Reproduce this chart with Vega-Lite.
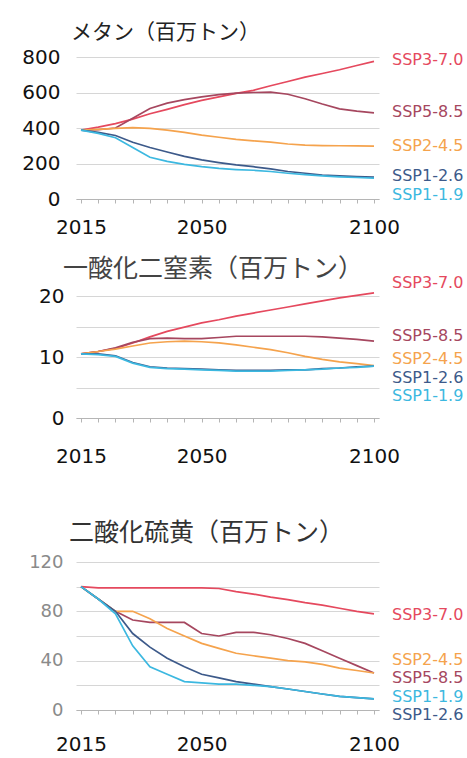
{
  "$schema": "https://vega.github.io/schema/vega-lite/v6.json",
  "background": "white",
  "padding": {"left": 21, "top": 22, "right": 0, "bottom": 0},
  "spacing": 55,
  "config": {
    "view": {"stroke": null},
    "font": "DejaVu Sans",
    "axis": {"title": null, "gridColor": "#d6d6d6", "domainColor": "#b5b5b5", "tickColor": "#b5b5b5", "labelOverlap": false}
  },
  "datasets": {
    "methane": [
      {"scenario": "SSP3-7.0", "year": 2015, "value": 388}, {"scenario": "SSP3-7.0", "year": 2020, "value": 405}, {"scenario": "SSP3-7.0", "year": 2025, "value": 425}, {"scenario": "SSP3-7.0", "year": 2030, "value": 450}, {"scenario": "SSP3-7.0", "year": 2035, "value": 480}, {"scenario": "SSP3-7.0", "year": 2040, "value": 505}, {"scenario": "SSP3-7.0", "year": 2045, "value": 532}, {"scenario": "SSP3-7.0", "year": 2050, "value": 556}, {"scenario": "SSP3-7.0", "year": 2055, "value": 575}, {"scenario": "SSP3-7.0", "year": 2060, "value": 595}, {"scenario": "SSP3-7.0", "year": 2065, "value": 612}, {"scenario": "SSP3-7.0", "year": 2070, "value": 638}, {"scenario": "SSP3-7.0", "year": 2075, "value": 662}, {"scenario": "SSP3-7.0", "year": 2080, "value": 687}, {"scenario": "SSP3-7.0", "year": 2085, "value": 707}, {"scenario": "SSP3-7.0", "year": 2090, "value": 728}, {"scenario": "SSP3-7.0", "year": 2095, "value": 752}, {"scenario": "SSP3-7.0", "year": 2100, "value": 775},
      {"scenario": "SSP5-8.5", "year": 2015, "value": 388}, {"scenario": "SSP5-8.5", "year": 2020, "value": 390}, {"scenario": "SSP5-8.5", "year": 2025, "value": 400}, {"scenario": "SSP5-8.5", "year": 2030, "value": 455}, {"scenario": "SSP5-8.5", "year": 2035, "value": 510}, {"scenario": "SSP5-8.5", "year": 2040, "value": 540}, {"scenario": "SSP5-8.5", "year": 2045, "value": 560}, {"scenario": "SSP5-8.5", "year": 2050, "value": 575}, {"scenario": "SSP5-8.5", "year": 2055, "value": 588}, {"scenario": "SSP5-8.5", "year": 2060, "value": 597}, {"scenario": "SSP5-8.5", "year": 2065, "value": 600}, {"scenario": "SSP5-8.5", "year": 2070, "value": 602}, {"scenario": "SSP5-8.5", "year": 2075, "value": 590}, {"scenario": "SSP5-8.5", "year": 2080, "value": 565}, {"scenario": "SSP5-8.5", "year": 2085, "value": 535}, {"scenario": "SSP5-8.5", "year": 2090, "value": 508}, {"scenario": "SSP5-8.5", "year": 2095, "value": 495}, {"scenario": "SSP5-8.5", "year": 2100, "value": 485},
      {"scenario": "SSP2-4.5", "year": 2015, "value": 388}, {"scenario": "SSP2-4.5", "year": 2020, "value": 392}, {"scenario": "SSP2-4.5", "year": 2025, "value": 398}, {"scenario": "SSP2-4.5", "year": 2030, "value": 402}, {"scenario": "SSP2-4.5", "year": 2035, "value": 398}, {"scenario": "SSP2-4.5", "year": 2040, "value": 388}, {"scenario": "SSP2-4.5", "year": 2045, "value": 375}, {"scenario": "SSP2-4.5", "year": 2050, "value": 360}, {"scenario": "SSP2-4.5", "year": 2055, "value": 348}, {"scenario": "SSP2-4.5", "year": 2060, "value": 336}, {"scenario": "SSP2-4.5", "year": 2065, "value": 328}, {"scenario": "SSP2-4.5", "year": 2070, "value": 320}, {"scenario": "SSP2-4.5", "year": 2075, "value": 310}, {"scenario": "SSP2-4.5", "year": 2080, "value": 303}, {"scenario": "SSP2-4.5", "year": 2085, "value": 301}, {"scenario": "SSP2-4.5", "year": 2090, "value": 300}, {"scenario": "SSP2-4.5", "year": 2095, "value": 299}, {"scenario": "SSP2-4.5", "year": 2100, "value": 298},
      {"scenario": "SSP1-2.6", "year": 2015, "value": 388}, {"scenario": "SSP1-2.6", "year": 2020, "value": 375}, {"scenario": "SSP1-2.6", "year": 2025, "value": 358}, {"scenario": "SSP1-2.6", "year": 2030, "value": 320}, {"scenario": "SSP1-2.6", "year": 2035, "value": 290}, {"scenario": "SSP1-2.6", "year": 2040, "value": 265}, {"scenario": "SSP1-2.6", "year": 2045, "value": 240}, {"scenario": "SSP1-2.6", "year": 2050, "value": 220}, {"scenario": "SSP1-2.6", "year": 2055, "value": 205}, {"scenario": "SSP1-2.6", "year": 2060, "value": 192}, {"scenario": "SSP1-2.6", "year": 2065, "value": 182}, {"scenario": "SSP1-2.6", "year": 2070, "value": 170}, {"scenario": "SSP1-2.6", "year": 2075, "value": 155}, {"scenario": "SSP1-2.6", "year": 2080, "value": 145}, {"scenario": "SSP1-2.6", "year": 2085, "value": 135}, {"scenario": "SSP1-2.6", "year": 2090, "value": 130}, {"scenario": "SSP1-2.6", "year": 2095, "value": 126}, {"scenario": "SSP1-2.6", "year": 2100, "value": 123},
      {"scenario": "SSP1-1.9", "year": 2015, "value": 388}, {"scenario": "SSP1-1.9", "year": 2020, "value": 370}, {"scenario": "SSP1-1.9", "year": 2025, "value": 345}, {"scenario": "SSP1-1.9", "year": 2030, "value": 290}, {"scenario": "SSP1-1.9", "year": 2035, "value": 235}, {"scenario": "SSP1-1.9", "year": 2040, "value": 212}, {"scenario": "SSP1-1.9", "year": 2045, "value": 195}, {"scenario": "SSP1-1.9", "year": 2050, "value": 182}, {"scenario": "SSP1-1.9", "year": 2055, "value": 172}, {"scenario": "SSP1-1.9", "year": 2060, "value": 166}, {"scenario": "SSP1-1.9", "year": 2065, "value": 162}, {"scenario": "SSP1-1.9", "year": 2070, "value": 155}, {"scenario": "SSP1-1.9", "year": 2075, "value": 145}, {"scenario": "SSP1-1.9", "year": 2080, "value": 137}, {"scenario": "SSP1-1.9", "year": 2085, "value": 130}, {"scenario": "SSP1-1.9", "year": 2090, "value": 125}, {"scenario": "SSP1-1.9", "year": 2095, "value": 121}, {"scenario": "SSP1-1.9", "year": 2100, "value": 118}
    ],
    "n2o": [
      {"scenario": "SSP3-7.0", "year": 2015, "value": 10.5}, {"scenario": "SSP3-7.0", "year": 2020, "value": 10.9}, {"scenario": "SSP3-7.0", "year": 2025, "value": 11.4}, {"scenario": "SSP3-7.0", "year": 2030, "value": 12.3}, {"scenario": "SSP3-7.0", "year": 2035, "value": 13.3}, {"scenario": "SSP3-7.0", "year": 2040, "value": 14.2}, {"scenario": "SSP3-7.0", "year": 2045, "value": 14.9}, {"scenario": "SSP3-7.0", "year": 2050, "value": 15.6}, {"scenario": "SSP3-7.0", "year": 2055, "value": 16.1}, {"scenario": "SSP3-7.0", "year": 2060, "value": 16.7}, {"scenario": "SSP3-7.0", "year": 2065, "value": 17.2}, {"scenario": "SSP3-7.0", "year": 2070, "value": 17.7}, {"scenario": "SSP3-7.0", "year": 2075, "value": 18.2}, {"scenario": "SSP3-7.0", "year": 2080, "value": 18.7}, {"scenario": "SSP3-7.0", "year": 2085, "value": 19.2}, {"scenario": "SSP3-7.0", "year": 2090, "value": 19.7}, {"scenario": "SSP3-7.0", "year": 2095, "value": 20.1}, {"scenario": "SSP3-7.0", "year": 2100, "value": 20.5},
      {"scenario": "SSP5-8.5", "year": 2015, "value": 10.5}, {"scenario": "SSP5-8.5", "year": 2020, "value": 10.9}, {"scenario": "SSP5-8.5", "year": 2025, "value": 11.5}, {"scenario": "SSP5-8.5", "year": 2030, "value": 12.4}, {"scenario": "SSP5-8.5", "year": 2035, "value": 13.0}, {"scenario": "SSP5-8.5", "year": 2040, "value": 13.1}, {"scenario": "SSP5-8.5", "year": 2045, "value": 13.0}, {"scenario": "SSP5-8.5", "year": 2050, "value": 13.0}, {"scenario": "SSP5-8.5", "year": 2055, "value": 13.2}, {"scenario": "SSP5-8.5", "year": 2060, "value": 13.4}, {"scenario": "SSP5-8.5", "year": 2065, "value": 13.4}, {"scenario": "SSP5-8.5", "year": 2070, "value": 13.4}, {"scenario": "SSP5-8.5", "year": 2075, "value": 13.4}, {"scenario": "SSP5-8.5", "year": 2080, "value": 13.4}, {"scenario": "SSP5-8.5", "year": 2085, "value": 13.3}, {"scenario": "SSP5-8.5", "year": 2090, "value": 13.1}, {"scenario": "SSP5-8.5", "year": 2095, "value": 12.9}, {"scenario": "SSP5-8.5", "year": 2100, "value": 12.6},
      {"scenario": "SSP2-4.5", "year": 2015, "value": 10.5}, {"scenario": "SSP2-4.5", "year": 2020, "value": 10.9}, {"scenario": "SSP2-4.5", "year": 2025, "value": 11.3}, {"scenario": "SSP2-4.5", "year": 2030, "value": 11.8}, {"scenario": "SSP2-4.5", "year": 2035, "value": 12.3}, {"scenario": "SSP2-4.5", "year": 2040, "value": 12.5}, {"scenario": "SSP2-4.5", "year": 2045, "value": 12.6}, {"scenario": "SSP2-4.5", "year": 2050, "value": 12.5}, {"scenario": "SSP2-4.5", "year": 2055, "value": 12.3}, {"scenario": "SSP2-4.5", "year": 2060, "value": 12.0}, {"scenario": "SSP2-4.5", "year": 2065, "value": 11.6}, {"scenario": "SSP2-4.5", "year": 2070, "value": 11.2}, {"scenario": "SSP2-4.5", "year": 2075, "value": 10.7}, {"scenario": "SSP2-4.5", "year": 2080, "value": 10.1}, {"scenario": "SSP2-4.5", "year": 2085, "value": 9.6}, {"scenario": "SSP2-4.5", "year": 2090, "value": 9.2}, {"scenario": "SSP2-4.5", "year": 2095, "value": 8.9}, {"scenario": "SSP2-4.5", "year": 2100, "value": 8.6},
      {"scenario": "SSP1-2.6", "year": 2015, "value": 10.5}, {"scenario": "SSP1-2.6", "year": 2020, "value": 10.5}, {"scenario": "SSP1-2.6", "year": 2025, "value": 10.2}, {"scenario": "SSP1-2.6", "year": 2030, "value": 9.1}, {"scenario": "SSP1-2.6", "year": 2035, "value": 8.4}, {"scenario": "SSP1-2.6", "year": 2040, "value": 8.2}, {"scenario": "SSP1-2.6", "year": 2045, "value": 8.1}, {"scenario": "SSP1-2.6", "year": 2050, "value": 8.0}, {"scenario": "SSP1-2.6", "year": 2055, "value": 7.9}, {"scenario": "SSP1-2.6", "year": 2060, "value": 7.8}, {"scenario": "SSP1-2.6", "year": 2065, "value": 7.8}, {"scenario": "SSP1-2.6", "year": 2070, "value": 7.8}, {"scenario": "SSP1-2.6", "year": 2075, "value": 7.9}, {"scenario": "SSP1-2.6", "year": 2080, "value": 7.9}, {"scenario": "SSP1-2.6", "year": 2085, "value": 8.1}, {"scenario": "SSP1-2.6", "year": 2090, "value": 8.2}, {"scenario": "SSP1-2.6", "year": 2095, "value": 8.4}, {"scenario": "SSP1-2.6", "year": 2100, "value": 8.5},
      {"scenario": "SSP1-1.9", "year": 2015, "value": 10.5}, {"scenario": "SSP1-1.9", "year": 2020, "value": 10.4}, {"scenario": "SSP1-1.9", "year": 2025, "value": 10.1}, {"scenario": "SSP1-1.9", "year": 2030, "value": 9.0}, {"scenario": "SSP1-1.9", "year": 2035, "value": 8.3}, {"scenario": "SSP1-1.9", "year": 2040, "value": 8.1}, {"scenario": "SSP1-1.9", "year": 2045, "value": 8.0}, {"scenario": "SSP1-1.9", "year": 2050, "value": 7.9}, {"scenario": "SSP1-1.9", "year": 2055, "value": 7.8}, {"scenario": "SSP1-1.9", "year": 2060, "value": 7.7}, {"scenario": "SSP1-1.9", "year": 2065, "value": 7.7}, {"scenario": "SSP1-1.9", "year": 2070, "value": 7.7}, {"scenario": "SSP1-1.9", "year": 2075, "value": 7.8}, {"scenario": "SSP1-1.9", "year": 2080, "value": 7.9}, {"scenario": "SSP1-1.9", "year": 2085, "value": 8.0}, {"scenario": "SSP1-1.9", "year": 2090, "value": 8.2}, {"scenario": "SSP1-1.9", "year": 2095, "value": 8.3}, {"scenario": "SSP1-1.9", "year": 2100, "value": 8.5}
    ],
    "so2": [
      {"scenario": "SSP3-7.0", "year": 2015, "value": 100}, {"scenario": "SSP3-7.0", "year": 2020, "value": 99}, {"scenario": "SSP3-7.0", "year": 2025, "value": 99}, {"scenario": "SSP3-7.0", "year": 2030, "value": 99}, {"scenario": "SSP3-7.0", "year": 2035, "value": 99}, {"scenario": "SSP3-7.0", "year": 2040, "value": 99}, {"scenario": "SSP3-7.0", "year": 2045, "value": 99}, {"scenario": "SSP3-7.0", "year": 2050, "value": 99}, {"scenario": "SSP3-7.0", "year": 2055, "value": 98.5}, {"scenario": "SSP3-7.0", "year": 2060, "value": 96}, {"scenario": "SSP3-7.0", "year": 2065, "value": 94}, {"scenario": "SSP3-7.0", "year": 2070, "value": 91.5}, {"scenario": "SSP3-7.0", "year": 2075, "value": 89.5}, {"scenario": "SSP3-7.0", "year": 2080, "value": 87}, {"scenario": "SSP3-7.0", "year": 2085, "value": 85}, {"scenario": "SSP3-7.0", "year": 2090, "value": 82.5}, {"scenario": "SSP3-7.0", "year": 2095, "value": 80}, {"scenario": "SSP3-7.0", "year": 2100, "value": 78},
      {"scenario": "SSP5-8.5", "year": 2015, "value": 100}, {"scenario": "SSP5-8.5", "year": 2020, "value": 90}, {"scenario": "SSP5-8.5", "year": 2025, "value": 80}, {"scenario": "SSP5-8.5", "year": 2030, "value": 73}, {"scenario": "SSP5-8.5", "year": 2035, "value": 71}, {"scenario": "SSP5-8.5", "year": 2040, "value": 71}, {"scenario": "SSP5-8.5", "year": 2045, "value": 71}, {"scenario": "SSP5-8.5", "year": 2050, "value": 62}, {"scenario": "SSP5-8.5", "year": 2055, "value": 60}, {"scenario": "SSP5-8.5", "year": 2060, "value": 63}, {"scenario": "SSP5-8.5", "year": 2065, "value": 63}, {"scenario": "SSP5-8.5", "year": 2070, "value": 61}, {"scenario": "SSP5-8.5", "year": 2075, "value": 58}, {"scenario": "SSP5-8.5", "year": 2080, "value": 54}, {"scenario": "SSP5-8.5", "year": 2085, "value": 48}, {"scenario": "SSP5-8.5", "year": 2090, "value": 42}, {"scenario": "SSP5-8.5", "year": 2095, "value": 36}, {"scenario": "SSP5-8.5", "year": 2100, "value": 30},
      {"scenario": "SSP2-4.5", "year": 2015, "value": 100}, {"scenario": "SSP2-4.5", "year": 2020, "value": 90}, {"scenario": "SSP2-4.5", "year": 2025, "value": 80}, {"scenario": "SSP2-4.5", "year": 2030, "value": 80}, {"scenario": "SSP2-4.5", "year": 2035, "value": 74}, {"scenario": "SSP2-4.5", "year": 2040, "value": 66}, {"scenario": "SSP2-4.5", "year": 2045, "value": 60}, {"scenario": "SSP2-4.5", "year": 2050, "value": 54}, {"scenario": "SSP2-4.5", "year": 2055, "value": 50}, {"scenario": "SSP2-4.5", "year": 2060, "value": 46}, {"scenario": "SSP2-4.5", "year": 2065, "value": 44}, {"scenario": "SSP2-4.5", "year": 2070, "value": 42}, {"scenario": "SSP2-4.5", "year": 2075, "value": 40}, {"scenario": "SSP2-4.5", "year": 2080, "value": 39}, {"scenario": "SSP2-4.5", "year": 2085, "value": 37}, {"scenario": "SSP2-4.5", "year": 2090, "value": 34}, {"scenario": "SSP2-4.5", "year": 2095, "value": 32}, {"scenario": "SSP2-4.5", "year": 2100, "value": 30},
      {"scenario": "SSP1-2.6", "year": 2015, "value": 100}, {"scenario": "SSP1-2.6", "year": 2020, "value": 90}, {"scenario": "SSP1-2.6", "year": 2025, "value": 80}, {"scenario": "SSP1-2.6", "year": 2030, "value": 62}, {"scenario": "SSP1-2.6", "year": 2035, "value": 51}, {"scenario": "SSP1-2.6", "year": 2040, "value": 42}, {"scenario": "SSP1-2.6", "year": 2045, "value": 35}, {"scenario": "SSP1-2.6", "year": 2050, "value": 29}, {"scenario": "SSP1-2.6", "year": 2055, "value": 26}, {"scenario": "SSP1-2.6", "year": 2060, "value": 23}, {"scenario": "SSP1-2.6", "year": 2065, "value": 21}, {"scenario": "SSP1-2.6", "year": 2070, "value": 19}, {"scenario": "SSP1-2.6", "year": 2075, "value": 17}, {"scenario": "SSP1-2.6", "year": 2080, "value": 15}, {"scenario": "SSP1-2.6", "year": 2085, "value": 13}, {"scenario": "SSP1-2.6", "year": 2090, "value": 11}, {"scenario": "SSP1-2.6", "year": 2095, "value": 10}, {"scenario": "SSP1-2.6", "year": 2100, "value": 9},
      {"scenario": "SSP1-1.9", "year": 2015, "value": 100}, {"scenario": "SSP1-1.9", "year": 2020, "value": 90}, {"scenario": "SSP1-1.9", "year": 2025, "value": 78}, {"scenario": "SSP1-1.9", "year": 2030, "value": 52}, {"scenario": "SSP1-1.9", "year": 2035, "value": 35}, {"scenario": "SSP1-1.9", "year": 2040, "value": 29}, {"scenario": "SSP1-1.9", "year": 2045, "value": 23}, {"scenario": "SSP1-1.9", "year": 2050, "value": 22}, {"scenario": "SSP1-1.9", "year": 2055, "value": 21}, {"scenario": "SSP1-1.9", "year": 2060, "value": 21}, {"scenario": "SSP1-1.9", "year": 2065, "value": 20}, {"scenario": "SSP1-1.9", "year": 2070, "value": 19}, {"scenario": "SSP1-1.9", "year": 2075, "value": 17}, {"scenario": "SSP1-1.9", "year": 2080, "value": 15}, {"scenario": "SSP1-1.9", "year": 2085, "value": 13}, {"scenario": "SSP1-1.9", "year": 2090, "value": 11}, {"scenario": "SSP1-1.9", "year": 2095, "value": 10}, {"scenario": "SSP1-1.9", "year": 2100, "value": 9}
    ],
    "labels": [
      {"gas": "methane", "scenario": "SSP3-7.0", "year": 2100, "value": 783},
      {"gas": "methane", "scenario": "SSP5-8.5", "year": 2100, "value": 490},
      {"gas": "methane", "scenario": "SSP2-4.5", "year": 2100, "value": 299},
      {"gas": "methane", "scenario": "SSP1-2.6", "year": 2100, "value": 130},
      {"gas": "methane", "scenario": "SSP1-1.9", "year": 2100, "value": 23},
      {"gas": "n2o", "scenario": "SSP3-7.0", "year": 2100, "value": 22.1},
      {"gas": "n2o", "scenario": "SSP5-8.5", "year": 2100, "value": 13.4},
      {"gas": "n2o", "scenario": "SSP2-4.5", "year": 2100, "value": 9.7},
      {"gas": "n2o", "scenario": "SSP1-2.6", "year": 2100, "value": 6.6},
      {"gas": "n2o", "scenario": "SSP1-1.9", "year": 2100, "value": 3.6},
      {"gas": "so2", "scenario": "SSP3-7.0", "year": 2100, "value": 77},
      {"gas": "so2", "scenario": "SSP2-4.5", "year": 2100, "value": 40.5},
      {"gas": "so2", "scenario": "SSP5-8.5", "year": 2100, "value": 26},
      {"gas": "so2", "scenario": "SSP1-1.9", "year": 2100, "value": 10.5},
      {"gas": "so2", "scenario": "SSP1-2.6", "year": 2100, "value": -4}
    ]
  },
  "vconcat": [
    {
      "spacing": 20,
      "vconcat": [
        {
          "width": 303,
          "height": 142,
          "title": {"text": "メタン（百万トン）", "anchor": "start", "frame": "group", "font": "Noto Sans CJK JP", "fontSize": 21, "fontWeight": "normal", "color": "#222222", "offset": 4, "dx": -5},
          "encoding": {
            "x": {"field": "year", "type": "quantitative", "scale": {"domain": [2015, 2100], "nice": false, "zero": false, "padding": 5},
                  "axis": {"grid": false, "values": [2015, 2020, 2025, 2030, 2035, 2040, 2045, 2050, 2055, 2060, 2065, 2070, 2075, 2080, 2085, 2090, 2095, 2100], "labelExpr": "(datum.value == 2015 || datum.value == 2050 || datum.value == 2100) ? '' + datum.value : ''", "labelFontSize": 20, "labelColor": "#111111", "labelPadding": 14, "tickSize": 4, "labelFlush": false, "labelOverlap": false}},
            "y": {"field": "value", "type": "quantitative", "scale": {"domain": [0, 800], "nice": false},
                  "axis": {"values": [0, 200, 400, 600, 800], "domain": false, "ticks": false, "labelFontSize": 20, "labelColor": "#111111", "labelPadding": 16, "labelOverlap": false}},
            "color": {"field": "scenario", "type": "nominal", "legend": null, "scale": {"domain": ["SSP3-7.0", "SSP5-8.5", "SSP2-4.5", "SSP1-2.6", "SSP1-1.9"], "range": ["#e5495e", "#a6475f", "#f5a34d", "#3d5a8a", "#3cb8e0"]}}
          },
          "layer": [
            {
              "data": {"name": "methane"},
              "mark": {"type": "line", "strokeWidth": 1.7},
              "encoding": {"detail": {"field": "scenario"}}
            },
            {
              "data": {"name": "labels"},
              "transform": [{"filter": "datum.gas == 'methane'"}],
              "mark": {"type": "text", "align": "left", "baseline": "middle", "dx": 18, "fontSize": 16, "font": "DejaVu Sans"},
              "encoding": {"text": {"field": "scenario"}}
            }
          ]
        },
        {
          "width": 303,
          "height": 122,
          "title": {"text": "一酸化二窒素（百万トン）", "anchor": "start", "frame": "group", "font": "Noto Sans CJK JP", "fontSize": 25, "fontWeight": "normal", "color": "#444444", "offset": -7, "dx": -13},
          "encoding": {
            "x": {"field": "year", "type": "quantitative", "scale": {"domain": [2015, 2100], "nice": false, "zero": false, "padding": 5},
                  "axis": {"grid": false, "values": [2015, 2020, 2025, 2030, 2035, 2040, 2045, 2050, 2055, 2060, 2065, 2070, 2075, 2080, 2085, 2090, 2095, 2100], "labelExpr": "(datum.value == 2015 || datum.value == 2050 || datum.value == 2100) ? '' + datum.value : ''", "labelFontSize": 20, "labelColor": "#111111", "labelPadding": 24, "tickSize": 4, "labelFlush": false, "labelOverlap": false}},
            "y": {"field": "value", "type": "quantitative", "scale": {"domain": [0, 20], "nice": false},
                  "axis": {"values": [0, 5, 10, 15, 20], "labelExpr": "datum.value % 10 == 0 ? '' + datum.value : ''", "domain": false, "ticks": false, "labelFontSize": 20, "labelColor": "#111111", "labelPadding": 12, "labelOverlap": false}},
            "color": {"field": "scenario", "type": "nominal", "legend": null, "scale": {"domain": ["SSP3-7.0", "SSP5-8.5", "SSP2-4.5", "SSP1-2.6", "SSP1-1.9"], "range": ["#e5495e", "#a6475f", "#f5a34d", "#3d5a8a", "#3cb8e0"]}}
          },
          "layer": [
            {
              "data": {"name": "n2o"},
              "mark": {"type": "line", "strokeWidth": 1.7},
              "encoding": {"detail": {"field": "scenario"}}
            },
            {
              "data": {"name": "labels"},
              "transform": [{"filter": "datum.gas == 'n2o'"}],
              "mark": {"type": "text", "align": "left", "baseline": "middle", "dx": 18, "fontSize": 16, "font": "DejaVu Sans"},
              "encoding": {"text": {"field": "scenario"}}
            }
          ]
        }
      ]
    },
    {
      "vconcat": [
        {
          "width": 303,
          "height": 148,
          "title": {"text": "二酸化硫黄（百万トン）", "anchor": "start", "frame": "group", "font": "Noto Sans CJK JP", "fontSize": 25, "fontWeight": "normal", "color": "#333333", "offset": 7, "dx": -7},
          "encoding": {
            "x": {"field": "year", "type": "quantitative", "scale": {"domain": [2015, 2100], "nice": false, "zero": false, "padding": 5},
                  "axis": {"grid": false, "values": [2015, 2020, 2025, 2030, 2035, 2040, 2045, 2050, 2055, 2060, 2065, 2070, 2075, 2080, 2085, 2090, 2095, 2100], "labelExpr": "(datum.value == 2015 || datum.value == 2050 || datum.value == 2100) ? '' + datum.value : ''", "labelFontSize": 20, "labelColor": "#111111", "labelPadding": 20, "tickSize": 4, "labelFlush": false, "labelOverlap": false}},
            "y": {"field": "value", "type": "quantitative", "scale": {"domain": [0, 120], "nice": false},
                  "axis": {"values": [0, 20, 40, 60, 80, 100, 120], "labelExpr": "datum.value % 40 == 0 ? '' + datum.value : ''", "domain": false, "ticks": false, "labelFontSize": 18, "labelColor": "#8a8a8a", "labelPadding": 13, "minExtent": 54, "labelOverlap": false}},
            "color": {"field": "scenario", "type": "nominal", "legend": null, "scale": {"domain": ["SSP3-7.0", "SSP5-8.5", "SSP2-4.5", "SSP1-2.6", "SSP1-1.9"], "range": ["#e5495e", "#a6475f", "#f5a34d", "#3d5a8a", "#3cb8e0"]}}
          },
          "layer": [
            {
              "data": {"name": "so2"},
              "mark": {"type": "line", "strokeWidth": 1.7},
              "encoding": {"detail": {"field": "scenario"}}
            },
            {
              "data": {"name": "labels"},
              "transform": [{"filter": "datum.gas == 'so2'"}],
              "mark": {"type": "text", "align": "left", "baseline": "middle", "dx": 18, "fontSize": 16, "font": "DejaVu Sans"},
              "encoding": {"text": {"field": "scenario"}}
            }
          ]
        }
      ]
    }
  ]
}
